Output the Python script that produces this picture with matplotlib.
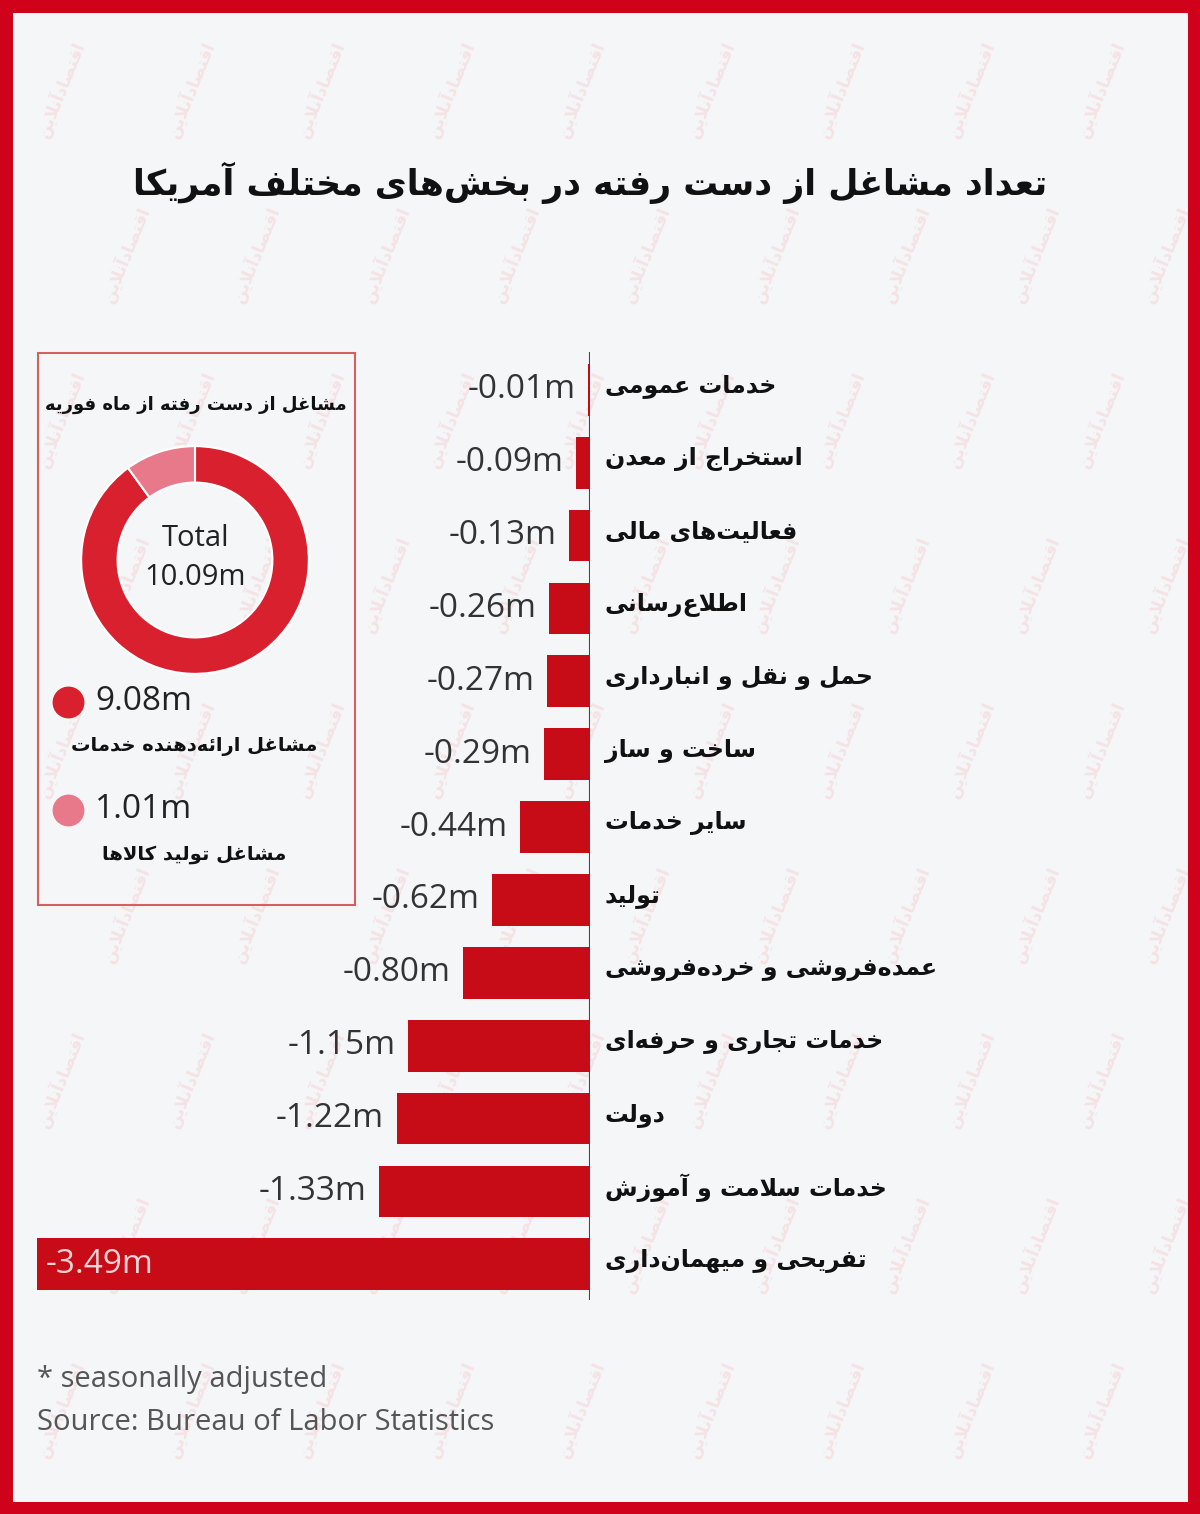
import matplotlib
matplotlib.use('Agg')
import matplotlib.pyplot as plt
from matplotlib.patches import Rectangle
from matplotlib.transforms import blended_transform_factory, offset_copy

W, H = 1200, 1514

categories = ['خدمات عمومی', 'استخراج از معدن', 'فعالیت‌های مالی', 'اطلاع‌رسانی',
              'حمل و نقل و انبارداری', 'ساخت و ساز', 'سایر خدمات', 'تولید',
              'عمده‌فروشی و خرده‌فروشی', 'خدمات تجاری و حرفه‌ای', 'دولت',
              'خدمات سلامت و آموزش', 'تفریحی و میهمان‌داری']
jobs_lost = [-0.01, -0.09, -0.13, -0.26, -0.27, -0.29, -0.44, -0.62,
             -0.80, -1.15, -1.22, -1.33, -3.49]

donut_labels = ['مشاغل ارائه‌دهنده خدمات', 'مشاغل تولید کالاها']
donut_values = [9.08, 1.01]
donut_total = 10.09

title = 'تعداد مشاغل از دست رفته در بخش‌های مختلف آمریکا'
panel_title = 'مشاغل از دست رفته از ماه فوریه'
notes = ['* seasonally adjusted', 'Source: Bureau of Labor Statistics']

BG = '#f4f6f8'
RED = '#d0021b'
BAR = '#c70b17'
DONUT = ['#d9202e', '#e8798a']

# matplotlib has no arabic shaping, so map letters to presentation forms by hand
FORMS = {
    'آ': ('\ufe81', '\ufe82', None, None),
    'ا': ('\ufe8d', '\ufe8e', None, None),
    'ئ': ('\ufe89', '\ufe8a', '\ufe8b', '\ufe8c'),
    'ب': ('\ufe8f', '\ufe90', '\ufe91', '\ufe92'),
    'ت': ('\ufe95', '\ufe96', '\ufe97', '\ufe98'),
    'ج': ('\ufe9d', '\ufe9e', '\ufe9f', '\ufea0'),
    'ح': ('\ufea1', '\ufea2', '\ufea3', '\ufea4'),
    'خ': ('\ufea5', '\ufea6', '\ufea7', '\ufea8'),
    'د': ('\ufea9', '\ufeaa', None, None),
    'ر': ('\ufead', '\ufeae', None, None),
    'ز': ('\ufeaf', '\ufeb0', None, None),
    'س': ('\ufeb1', '\ufeb2', '\ufeb3', '\ufeb4'),
    'ش': ('\ufeb5', '\ufeb6', '\ufeb7', '\ufeb8'),
    'ص': ('\ufeb9', '\ufeba', '\ufebb', '\ufebc'),
    'ط': ('\ufec1', '\ufec2', '\ufec3', '\ufec4'),
    'ع': ('\ufec9', '\ufeca', '\ufecb', '\ufecc'),
    'غ': ('\ufecd', '\ufece', '\ufecf', '\ufed0'),
    'ف': ('\ufed1', '\ufed2', '\ufed3', '\ufed4'),
    'ق': ('\ufed5', '\ufed6', '\ufed7', '\ufed8'),
    'ک': ('\ufed9', '\ufeda', '\ufedb', '\ufedc'),
    'ل': ('\ufedd', '\ufede', '\ufedf', '\ufee0'),
    'م': ('\ufee1', '\ufee2', '\ufee3', '\ufee4'),
    'ن': ('\ufee5', '\ufee6', '\ufee7', '\ufee8'),
    'ه': ('\ufee9', '\ufeea', '\ufeeb', '\ufeec'),
    'و': ('\ufeed', '\ufeee', None, None),
    'ی': ('\ufeef', '\ufef0', '\ufef3', '\ufef4'),
}
LAM_ALEF = {'ا': ('\ufefb', '\ufefc'), 'آ': ('\ufef5', '\ufef6')}


def joins_fwd(c):
    return c in FORMS and FORMS[c][2] is not None


def fa(text):
    ch = list(text)
    out = []
    i = 0
    while i < len(ch):
        c = ch[i]
        if c not in FORMS:
            if c != '\u200c':
                out.append(c)
            i += 1
            continue
        link_prev = i > 0 and joins_fwd(ch[i - 1])
        if c == 'ل' and i + 1 < len(ch) and ch[i + 1] in LAM_ALEF:
            out.append(LAM_ALEF[ch[i + 1]][1 if link_prev else 0])
            i += 2
            continue
        link_next = joins_fwd(c) and i + 1 < len(ch) and ch[i + 1] in FORMS
        iso, fin, ini, med = FORMS[c]
        if link_prev and link_next:
            out.append(med)
        elif link_prev:
            out.append(fin)
        elif link_next:
            out.append(ini)
        else:
            out.append(iso)
        i += 1
    return ''.join(reversed(out))


FA = dict(family=['DejaVu Sans'], fontweight='bold', color='#111111')
EN = dict(family=['Open Sans', 'DejaVu Sans'])

fig = plt.figure(figsize=(W / 100, H / 100), dpi=100, facecolor=BG)

# full-figure layer in pixel coordinates
bg = fig.add_axes([0, 0, 1, 1])
bg.set_xlim(0, W)
bg.set_ylim(H, 0)
bg.axis('off')

# watermark
wm = fa('اقتصادآنلاین')
for r, yy in enumerate(range(90, 1500, 165)):
    for xx in range(60 + (r % 2) * 65, 1200, 130):
        bg.text(xx, yy, wm, rotation=68, ha='center', va='center', fontsize=12,
                family=['DejaVu Sans'], fontweight='bold', color='#f4e2e4', zorder=0)

# red frame
bg.add_patch(Rectangle((0, 0), W, H, fill=False, edgecolor=RED, lw=18, zorder=5))

bg.text(590, 183, fa(title), ha='center', va='center', fontsize=25, **FA)

# donut panel
bg.add_patch(Rectangle((38, 353), 317, 552, fill=False, edgecolor='#d6605f', lw=1.5))
bg.text(196, 405, fa(panel_title), ha='center', va='center', fontsize=13, **FA)

dax = fig.add_axes([80 / W, 1 - 675 / H, 230 / W, 230 / H])
dax.pie(donut_values, colors=DONUT, startangle=90, counterclock=False,
        wedgeprops=dict(width=0.32, edgecolor='white', linewidth=1.5))
dax.set_xlim(-1.01, 1.01)
dax.set_ylim(-1.01, 1.01)
dax.set_aspect('equal')
dax.text(0, 0.185, 'Total', ha='center', va='center', fontsize=21, color='#222222', **EN)
dax.text(0, -0.155, f'{donut_total:.2f}m', ha='center', va='center', fontsize=21,
         color='#222222', **EN)

for k, (lab, val) in enumerate(zip(donut_labels, donut_values)):
    y0 = 702 + k * 108
    bg.scatter([68], [y0], s=480, color=DONUT[k], zorder=3)
    bg.text(95, y0, f'{val:.2f}m', ha='left', va='center', fontsize=24,
            color='#222222', **EN)
    bg.text(194, y0 + 44, fa(lab), ha='center', va='center', fontsize=14, **FA)

# bar chart
ax = fig.add_axes([37 / W, 1 - 1300 / H, (590 - 37) / W, (1300 - 352) / H])
ax.patch.set_alpha(0)
ypos = list(range(len(categories)))
ax.barh(ypos, jobs_lost, height=0.71, color=BAR)
ax.set_xlim(min(jobs_lost), 0)
ax.set_ylim(12.49, -0.52)
ax.axis('off')
ax.axvline(0, color='#444444', lw=1.5)

left_lab = offset_copy(ax.transData, fig=fig, x=-9, y=0, units='points')
inside_lab = offset_copy(ax.transData, fig=fig, x=6, y=0, units='points')
for y, v in zip(ypos, jobs_lost):
    if v == min(jobs_lost):
        ax.text(v, y, f'{v:.2f}m', transform=inside_lab, ha='left', va='center',
                fontsize=24, color='#f6d3d5', **EN)
    else:
        ax.text(v, y, f'{v:.2f}m', transform=left_lab, ha='right', va='center',
                fontsize=24, color='#333333', **EN)

cat_tr = blended_transform_factory(fig.transFigure, ax.transData)
for y, c in zip(ypos, categories):
    ax.text(605 / W, y - 0.05, fa(c), transform=cat_tr, ha='left', va='center',
            fontsize=17, clip_on=False, **FA)

bg.text(37, 1380, notes[0], ha='left', va='center', fontsize=21, color='#555555', **EN)
bg.text(37, 1422, notes[1], ha='left', va='center', fontsize=21, color='#555555', **EN)

fig.savefig('out.png', dpi=100, facecolor=BG)
